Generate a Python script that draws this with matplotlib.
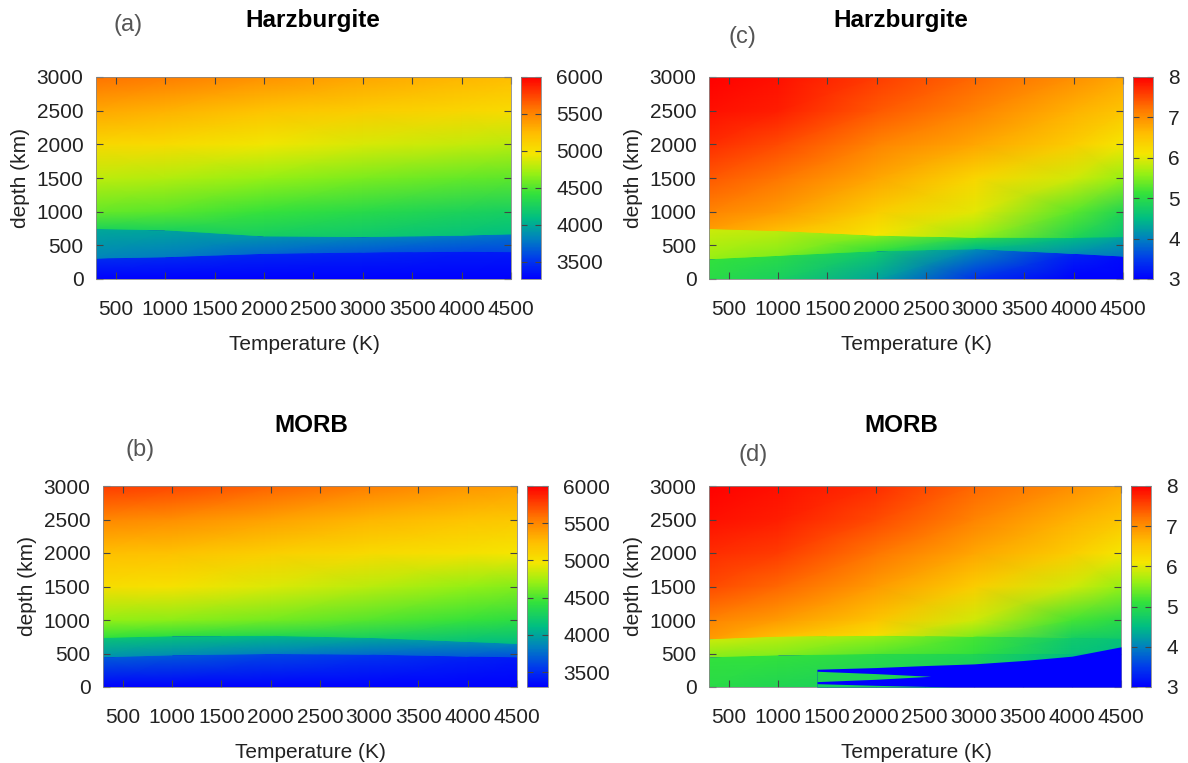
import numpy as np
import matplotlib.pyplot as plt
from matplotlib.colors import LinearSegmentedColormap, Normalize

plt.rcParams['font.family'] = ['Liberation Sans', 'DejaVu Sans']

W, H = 1188, 763

# temperature nodes (K) shared by every field
temps = [300, 1000, 2000, 3000, 4000, 4500]
# fixed depth rows above the transition zone (km)
upper_rows = [1000, 1500, 2000, 2500, 3000]

# rows: 0, below d1, above d1, below d2, above d2, then upper_rows

# ---- Harzburgite density (kg/m3)
harz_rho_d1 = [310, 330, 380, 400, 410, 405]
harz_rho_d2 = [750, 730, 640, 630, 650, 670]
harz_rho = [
    [3280, 3280, 3270, 3260, 3250, 3250],
    [3480, 3470, 3450, 3430, 3400, 3390],
    [3830, 3800, 3720, 3660, 3610, 3590],
    [4000, 3980, 3900, 3840, 3790, 3770],
    [4300, 4280, 4230, 4180, 4130, 4110],
    [4550, 4520, 4430, 4350, 4280, 4250],
    [4800, 4770, 4690, 4620, 4560, 4530],
    [5060, 5030, 4950, 4880, 4820, 4790],
    [5330, 5290, 5200, 5130, 5070, 5040],
    [5580, 5540, 5440, 5340, 5270, 5240],
]

# ---- Harzburgite thermal expansion (1e-5 /K)
harz_alpha_d1 = [300, 350, 420, 450, 380, 340]
harz_alpha_d2 = [750, 720, 650, 620, 620, 630]
harz_alpha = [
    [5.0, 4.8, 4.3, 3.4, 2.6, 2.5],
    [5.1, 5.0, 4.7, 4.1, 3.3, 3.1],
    [5.6, 5.5, 5.1, 4.5, 4.1, 3.9],
    [5.9, 5.8, 5.5, 5.0, 4.5, 4.3],
    [6.9, 6.6, 6.1, 5.6, 4.9, 4.6],
    [7.1, 6.9, 6.4, 6.0, 5.3, 4.9],
    [7.4, 7.2, 6.8, 6.3, 5.9, 5.6],
    [7.7, 7.5, 7.1, 6.8, 6.4, 6.1],
    [7.9, 7.8, 7.4, 7.1, 6.7, 6.5],
    [8.0, 7.9, 7.6, 7.3, 7.0, 6.8],
]

# ---- MORB density (kg/m3)
morb_rho_d1 = [450, 480, 500, 490, 460, 450]
morb_rho_d2 = [740, 765, 770, 740, 680, 650]
morb_rho = [
    [3310, 3310, 3300, 3300, 3300, 3300],
    [3700, 3680, 3620, 3550, 3460, 3420],
    [3920, 3900, 3840, 3760, 3680, 3640],
    [4180, 4160, 4100, 4020, 3920, 3870],
    [4430, 4420, 4350, 4280, 4150, 4110],
    [4700, 4680, 4610, 4530, 4440, 4400],
    [5030, 5000, 4900, 4800, 4700, 4650],
    [5240, 5210, 5130, 5060, 5000, 4970],
    [5490, 5460, 5370, 5280, 5200, 5170],
    [5780, 5740, 5640, 5530, 5430, 5380],
]

# ---- MORB thermal expansion (1e-5 /K)
morb_alpha_d1 = [450, 480, 500, 500, 500, 500]
morb_alpha_d2 = [720, 760, 770, 760, 740, 730]
morb_alpha = [
    [5.0, 4.9, 4.8, 4.7, 4.4, 4.3],
    [5.1, 5.1, 5.0, 4.9, 4.5, 4.4],
    [5.5, 5.5, 5.3, 5.1, 4.6, 4.5],
    [5.9, 5.8, 5.6, 5.2, 4.7, 4.6],
    [6.9, 6.6, 6.2, 5.5, 4.8, 4.7],
    [7.1, 6.9, 6.5, 5.9, 5.2, 5.0],
    [7.5, 7.3, 6.9, 6.4, 5.9, 5.6],
    [7.7, 7.6, 7.2, 6.8, 6.4, 6.1],
    [7.9, 7.8, 7.5, 7.1, 6.7, 6.5],
    [8.0, 7.9, 7.7, 7.3, 7.0, 6.8],
]

# MORB alpha below the plotted range (drawn in the lowest colour)
low_T = [1400, 2000, 2500, 3000, 3500, 4000, 4500]
low_top = [265, 290, 320, 345, 395, 460, 600]
tongue_T = [1400, 2000, 2560]
tongue_hi = [235, 200, 160]
tongue_lo = [80, 115, 160]
sliver_T = [1400, 2000, 2800]
sliver_top = [50, 25, 0]

cmap = LinearSegmentedColormap.from_list('geo', [
    (0.00, (0 / 255, 0 / 255, 255 / 255)),
    (0.10, (0 / 255, 60 / 255, 235 / 255)),
    (0.20, (0 / 255, 130 / 255, 190 / 255)),
    (0.30, (0 / 255, 190 / 255, 130 / 255)),
    (0.42, (50 / 255, 225 / 255, 60 / 255)),
    (0.52, (150 / 255, 240 / 255, 20 / 255)),
    (0.62, (245 / 255, 230 / 255, 0 / 255)),
    (0.72, (255 / 255, 190 / 255, 0 / 255)),
    (0.84, (255 / 255, 120 / 255, 0 / 255)),
    (1.00, (255 / 255, 0 / 255, 0 / 255)),
])


def rect(l, r, t, b):
    return [l / W, 1 - b / H, (r - l) / W, (b - t) / H]


def mesh_rows(d1, d2):
    d1 = np.array(d1, float)
    d2 = np.array(d2, float)
    rows = [np.zeros_like(d1), d1 - 0.5, d1 + 0.5, d2 - 0.5, d2 + 0.5]
    rows += [np.full_like(d1, v) for v in upper_rows]
    return np.vstack(rows)


def panel(ax_box, cb_box, d1, d2, z, vmin, vmax, cticks):
    ax = fig.add_axes(rect(*ax_box))
    cax = fig.add_axes(rect(*cb_box))
    Y = mesh_rows(d1, d2)
    X = np.tile(np.array(temps, float), (Y.shape[0], 1))
    norm = Normalize(vmin, vmax)
    m = ax.pcolormesh(X, Y, np.array(z, float), shading='gouraud',
                      cmap=cmap, norm=norm, rasterized=True)
    ax.set_xlim(300, 4500)
    ax.set_ylim(0, 3000)
    ax.set_xticks(range(500, 4501, 500))
    ax.set_yticks(range(0, 3001, 500))
    ax.tick_params(direction='in', top=True, right=True, length=5,
                   width=0.8, color='#444444', labelsize=15,
                   labelcolor='#222222')
    ax.tick_params(axis='x', pad=15)
    ax.tick_params(axis='y', pad=9)
    ax.set_ylabel('depth (km)', fontsize=15, labelpad=5, color='#222222')
    for s in ax.spines.values():
        s.set_linewidth(0.6)
        s.set_color('#888888')
    cb = fig.colorbar(m, cax=cax, ticks=cticks)
    cb.outline.set_linewidth(0.6)
    cb.outline.set_edgecolor('#888888')
    cax.tick_params(direction='in', length=4, width=0.8, color='#444444',
                    labelsize=15, labelcolor='#222222', pad=11,
                    left=True, right=True)
    return ax, norm


fig = plt.figure(figsize=(W / 100, H / 100), dpi=100)

ax_a, _ = panel((96, 511, 77, 279), (521, 541, 77, 279),
                harz_rho_d1, harz_rho_d2, harz_rho, 3270, 6000,
                range(3500, 6001, 500))
ax_c, _ = panel((709, 1123, 77, 279), (1133, 1153, 77, 279),
                harz_alpha_d1, harz_alpha_d2, harz_alpha, 3, 8, range(3, 9))
ax_b, _ = panel((103, 517, 486, 687), (527, 548, 486, 687),
                morb_rho_d1, morb_rho_d2, morb_rho, 3300, 6000,
                range(3500, 6001, 500))
ax_d, norm_d = panel((709, 1121, 486, 687), (1131, 1151, 486, 687),
                     morb_alpha_d1, morb_alpha_d2, morb_alpha, 3, 8, range(3, 9))

# region of MORB alpha that falls under the colour range
ax_d.fill_between(low_T, 0, low_top, color=cmap(0.0), lw=0, zorder=3)
ax_d.fill_between(tongue_T, tongue_lo, tongue_hi, color=cmap(norm_d(4.9)),
                  lw=0, zorder=4)
ax_d.fill_between(sliver_T, 0, sliver_top, color=cmap(norm_d(4.8)),
                  lw=0, zorder=4)


def ftext(x, y, s, **kw):
    fig.text(x / W, 1 - y / H, s, ha='center', va='center', **kw)


ftext(313, 21, 'Harzburgite', fontsize=17.5, fontweight='bold')
ftext(901, 21, 'Harzburgite', fontsize=17.5, fontweight='bold')
ftext(311, 425, 'MORB', fontsize=17.5, fontweight='bold')
ftext(901, 425, 'MORB', fontsize=17.5, fontweight='bold')

ftext(128, 25, '(a)', fontsize=17, color='#555555')
ftext(742, 37, '(c)', fontsize=17, color='#555555')
ftext(140, 450, '(b)', fontsize=17, color='#555555')
ftext(753, 455, '(d)', fontsize=17, color='#555555')

ftext(304, 345, 'Temperature (K)', fontsize=15, color='#222222')
ftext(916, 345, 'Temperature (K)', fontsize=15, color='#222222')
ftext(310, 752, 'Temperature (K)', fontsize=15, color='#222222')
ftext(916, 752, 'Temperature (K)', fontsize=15, color='#222222')

fig.savefig('out.png', dpi=100)
